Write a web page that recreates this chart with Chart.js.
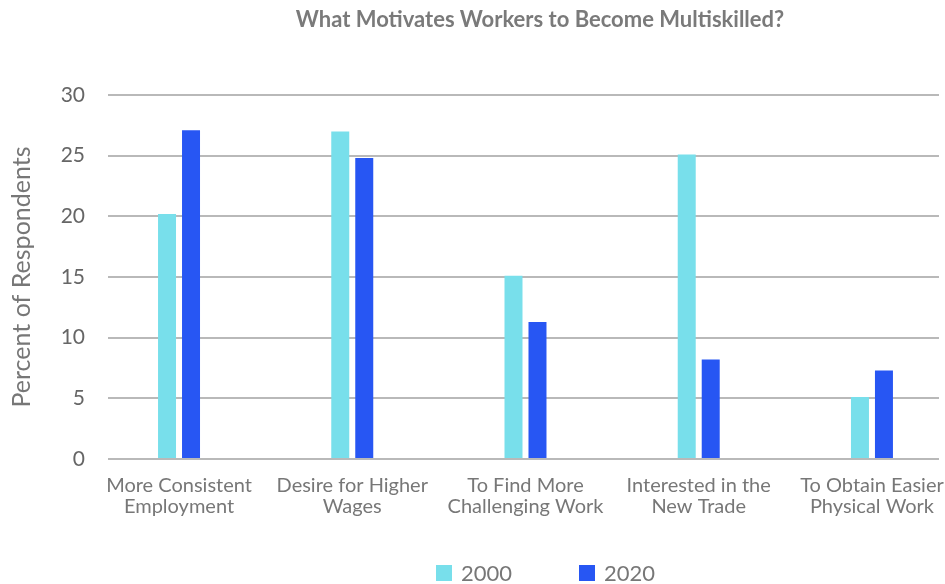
<!DOCTYPE html>
<html>
<head>
<meta charset="utf-8">
<script src="https://cdn.jsdelivr.net/npm/chart.js@4/dist/chart.umd.min.js"></script>
<style>
    html, body { margin: 0; padding: 0; background: #fff; }
    #wrap { position: relative; width: 945px; height: 584px; overflow: hidden; }
    #chart { position: absolute; left: 0; top: 0; }
    #title {
        position: absolute; left: 540px; top: 5px; transform: translateX(-50%);
        white-space: nowrap; font: bold 22px Lato, sans-serif; color: #7a7a7a;
    }
    #legend {
        position: absolute; left: 436px; top: 560px; display: flex;
        font: 22px Lato, sans-serif; color: #777; line-height: 26px;
    }
    #legend .item { display: flex; align-items: center; margin-right: 67px; }
    #legend .box { width: 16px; height: 16px; margin-right: 9px; }
</style>
</head>
<body>
<div id="wrap">
    <canvas id="chart" width="945" height="584"></canvas>
    <div id="title">What Motivates Workers to Become Multiskilled?</div>
    <div id="legend"></div>
</div>
<script>
    // survey answers, one entry per reason
    var reasons = [
        ['More Consistent', 'Employment'],
        ['Desire for Higher', 'Wages'],
        ['To Find More', 'Challenging Work'],
        ['Interested in the', 'New Trade'],
        ['To Obtain Easier', 'Physical Work']
    ];
    var years = ['2000', '2020'];
    var share2000 = [20.2, 27, 15.1, 25.1, 5.1];
    var share2020 = [27.1, 24.8, 11.3, 8.2, 7.3];
    var yTicks = [0, 5, 10, 15, 20, 25, 30];

    var colors = ['#78dfeb', '#2756f3'];
    var gray = '#777';

    function points(values) {
        return values.map(function (v, i) {
            return {x: i, y: v};
        });
    }

    var ctx = document.getElementById('chart').getContext('2d');
    var chart = new Chart(ctx, {
        type: 'bar',
        data: {
            datasets: [
                {label: years[0], data: points(share2000), backgroundColor: colors[0]},
                {label: years[1], data: points(share2020), backgroundColor: colors[1]}
            ]
        },
        options: {
            responsive: false,
            animation: false,
            categoryPercentage: 0.277,
            barPercentage: 0.75,
            layout: {padding: {left: 0, right: 6, top: 95, bottom: 65}},
            plugins: {
                legend: {display: false},
                title: {display: false},
                tooltip: {enabled: false}
            },
            scales: {
                x: {
                    type: 'linear',
                    offset: false,
                    min: -0.41,
                    max: 4.387,
                    grid: {display: false, drawTicks: false},
                    border: {display: false},
                    afterBuildTicks: function (scale) {
                        scale.ticks = reasons.map(function (r, i) {
                            return {value: i};
                        });
                    },
                    afterFit: function (scale) {
                        scale.height = 60;
                        scale.paddingLeft = 0;
                        scale.paddingRight = 0;
                    },
                    ticks: {
                        autoSkip: false,
                        maxRotation: 0,
                        padding: 16,
                        color: gray,
                        font: {family: 'Lato', size: 20, lineHeight: 1.05},
                        callback: function (value) {
                            return reasons[value];
                        }
                    }
                },
                y: {
                    min: 0,
                    max: 30,
                    z: 1,
                    afterBuildTicks: function (scale) {
                        scale.ticks = yTicks.map(function (v) {
                            return {value: v};
                        });
                    },
                    afterFit: function (scale) {
                        scale.width = 108;
                        scale.paddingTop = 0;
                        scale.paddingBottom = 0;
                    },
                    grid: {color: 'rgba(128,128,128,0.55)', lineWidth: 2, drawTicks: false},
                    border: {display: false},
                    ticks: {
                        padding: 23,
                        color: '#666',
                        font: {family: 'Lato', size: 21}
                    },
                    title: {
                        display: true,
                        text: 'Percent of Respondents',
                        color: gray,
                        padding: {top: 7, bottom: 0},
                        font: {family: 'Lato', size: 25}
                    }
                }
            }
        }
    });

    // legend from the datasets
    var legend = document.getElementById('legend');
    chart.data.datasets.forEach(function (ds) {
        var item = document.createElement('div');
        item.className = 'item';
        var box = document.createElement('span');
        box.className = 'box';
        box.style.background = ds.backgroundColor;
        var text = document.createElement('span');
        text.textContent = ds.label;
        item.appendChild(box);
        item.appendChild(text);
        legend.appendChild(item);
    });
</script>
</body>
</html>
